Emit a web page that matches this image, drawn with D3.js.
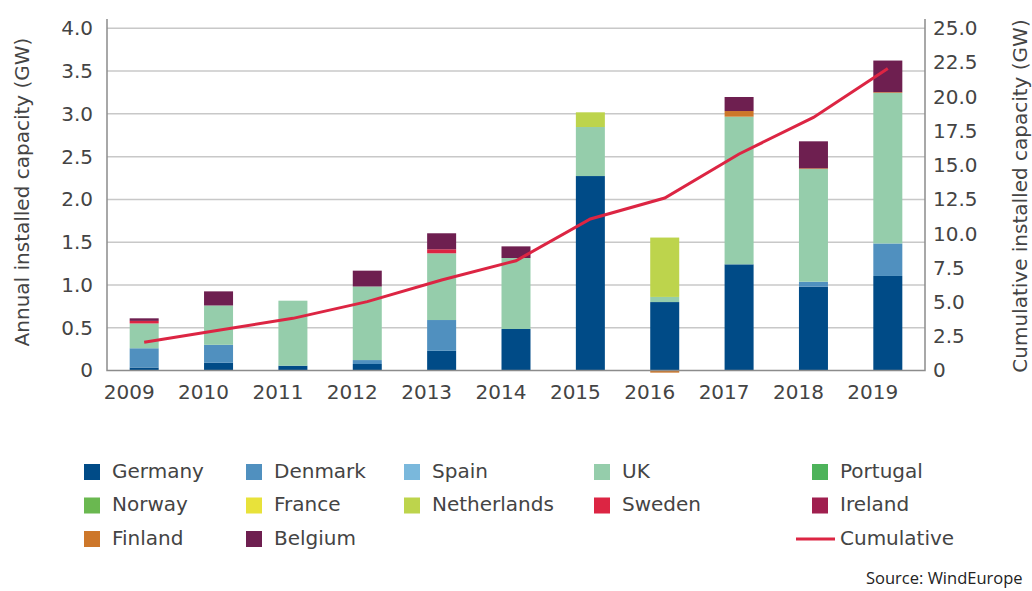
<!DOCTYPE html>
<html>
<head>
<meta charset="utf-8">
<script src="https://cdn.jsdelivr.net/npm/d3@7"></script>
<style>
    body { margin: 0; background: #fff; overflow: hidden; }
    svg text { font-family: "DejaVu Sans", sans-serif; fill: #444; }
</style>
</head>
<body>
<div class="canvas"></div>
<script>
// Data (GW)
const years = ['2009', '2010', '2011', '2012', '2013', '2014', '2015', '2016', '2017', '2018', '2019'];
const countries = ['Germany', 'Denmark', 'Spain', 'UK', 'Portugal', 'Norway', 'France', 'Netherlands', 'Sweden', 'Ireland', 'Finland', 'Belgium'];
const countryColors = ['#004b87', '#5090bf', '#7ab8dc', '#95cdab', '#4db35a', '#6ab850', '#e8e23a', '#bdd44c', '#dc2543', '#a01f4f', '#cd772a', '#6e1f50'];

const germany     = [0.035, 0.09, 0.056, 0.076, 0.23, 0.485, 2.273, 0.80, 1.241, 0.98, 1.105];
const denmark     = [0.225, 0.21, 0, 0.046, 0.36, 0, 0, 0, 0, 0.058, 0.38];
const spain       = [0, 0, 0, 0, 0, 0, 0, 0, 0, 0, 0];
const uk          = [0.29, 0.46, 0.76, 0.86, 0.78, 0.83, 0.573, 0.06, 1.726, 1.317, 1.76];
const portugal    = [0, 0, 0, 0, 0, 0, 0, 0, 0, 0, 0];
const norway      = [0, 0, 0, 0, 0, 0, 0, 0, 0, 0, 0];
const france      = [0, 0, 0, 0, 0, 0, 0, 0, 0, 0, 0];
const netherlands = [0, 0, 0, 0, 0, 0, 0.172, 0.694, 0, 0, 0];
const sweden      = [0.03, 0, 0, 0, 0.047, 0, 0, 0, 0, 0, 0];
const ireland     = [0, 0, 0, 0, 0, 0, 0, 0, 0, 0, 0];
const finland     = [0, 0, 0, 0, 0, 0, 0, -0.025, 0.066, 0.008, 0.008];
const belgium     = [0.03, 0.165, 0, 0.185, 0.187, 0.136, 0, 0, 0.164, 0.316, 0.37];

const cumulative  = [2.06, 2.94, 3.81, 5.03, 6.61, 8.02, 11.07, 12.6, 15.82, 18.49, 22.07];

const leftTicks  = [0, 0.5, 1.0, 1.5, 2.0, 2.5, 3.0, 3.5, 4.0];
const rightTicks = [0, 2.5, 5.0, 7.5, 10.0, 12.5, 15.0, 17.5, 20.0, 22.5, 25.0];

const seriesValues = [germany, denmark, spain, uk, portugal, norway, france, netherlands, sweden, ireland, finland, belgium];

// Table for d3.stack
const table = years.map((year, i) => {
    const row = { year };
    countries.forEach((c, j) => { row[c] = seriesValues[j][i]; });
    return row;
});

// Dimensions
const dims = { width: 1032, height: 591, left: 107, right: 925, top: 28.3, bottom: 370.5 };

const svg = d3.select('.canvas')
    .append('svg')
    .attr('width', dims.width)
    .attr('height', dims.height);

// Scales
const xScale = d3.scaleBand()
    .domain(years)
    .range([dims.left, dims.right])
    .paddingInner(0.61)
    .paddingOuter(0.305);

const yScale = d3.scaleLinear().domain([0, 4]).range([dims.bottom, dims.top]);
const y2Scale = d3.scaleLinear().domain([0, 25]).range([dims.bottom, dims.top]);
const color = d3.scaleOrdinal().domain(countries).range(countryColors);

// Gridlines
svg.append('g')
    .selectAll('line')
    .data(leftTicks.slice(1))
    .enter()
    .append('line')
        .attr('x1', dims.left)
        .attr('x2', dims.right)
        .attr('y1', d => yScale(d))
        .attr('y2', d => yScale(d))
        .attr('stroke', '#c8c8c8')
        .attr('stroke-width', 1.5);

// Stacked bars
const stacked = d3.stack()
    .keys(countries)
    .offset(d3.stackOffsetDiverging)(table);

svg.append('g')
    .selectAll('g')
    .data(stacked)
    .enter()
    .append('g')
        .attr('fill', d => color(d.key))
    .selectAll('rect')
    .data(d => d.filter(p => p[1] !== p[0]))
    .enter()
    .append('rect')
        .attr('x', d => xScale(d.data.year))
        .attr('width', xScale.bandwidth())
        .attr('y', d => yScale(Math.max(d[0], d[1])))
        .attr('height', d => Math.abs(yScale(d[0]) - yScale(d[1])));

// Axes
const fmt = d => d === 0 ? '0' : d.toFixed(1);

const leftAxis = svg.append('g')
    .attr('transform', `translate(${dims.left}, 0)`)
    .call(d3.axisLeft(yScale).tickValues(leftTicks).tickFormat(fmt).tickSize(0).tickPadding(14));

const rightAxis = svg.append('g')
    .attr('transform', `translate(${dims.right}, 0)`)
    .call(d3.axisRight(y2Scale).tickValues(rightTicks).tickFormat(fmt).tickSize(0).tickPadding(8));

const bottomAxis = svg.append('g')
    .attr('transform', `translate(0, ${dims.bottom})`)
    .call(d3.axisBottom(xScale).tickSize(0).tickPadding(14));

[leftAxis, rightAxis, bottomAxis].forEach(axis => {
    axis.select('.domain').remove();
    axis.selectAll('text')
        .attr('font-size', 20)
        .attr('font-family', '"DejaVu Sans", sans-serif')
        .attr('fill', '#444');
});
bottomAxis.selectAll('text').attr('dx', -15);

// Axis lines
svg.append('path')
    .attr('d', `M${dims.left},19V${dims.bottom}H${dims.right}V19`)
    .attr('fill', 'none')
    .attr('stroke', '#8c8c8c')
    .attr('stroke-width', 1.5);

// Cumulative line
const line = d3.line()
    .x((d, i) => xScale(years[i]) + xScale.bandwidth() / 2)
    .y(d => y2Scale(d));

svg.append('path')
    .datum(cumulative)
    .attr('d', line)
    .attr('fill', 'none')
    .attr('stroke', '#dc2543')
    .attr('stroke-width', 3);

// Axis titles
svg.append('text')
    .attr('transform', 'translate(23, 192) rotate(-90)')
    .attr('text-anchor', 'middle')
    .attr('dominant-baseline', 'middle')
    .attr('font-size', 20)
    .text('Annual installed capacity (GW)');

svg.append('text')
    .attr('transform', 'translate(1021, 196) rotate(-90)')
    .attr('text-anchor', 'middle')
    .attr('dominant-baseline', 'middle')
    .attr('font-size', 20)
    .text('Cumulative installed capacity (GW)');

// Legend
const legendCols = [84, 246, 404, 594, 812];
const legendRows = [472, 505.5, 539];
const legendItems = countries.map((c, i) => ({ label: c, color: countryColors[i], slot: i }));
legendItems.push({ label: 'Cumulative', color: '#dc2543', slot: 14, line: true });

const legend = svg.append('g')
    .selectAll('g')
    .data(legendItems)
    .enter()
    .append('g')
        .attr('transform', d => `translate(${legendCols[d.slot % 5]}, ${legendRows[Math.floor(d.slot / 5)]})`);

legend.filter(d => !d.line)
    .append('rect')
        .attr('x', 0)
        .attr('y', -8)
        .attr('width', 16)
        .attr('height', 16)
        .attr('fill', d => d.color);

legend.filter(d => d.line)
    .append('line')
        .attr('x1', -16)
        .attr('x2', 23)
        .attr('stroke', d => d.color)
        .attr('stroke-width', 3);

legend.append('text')
    .attr('x', 28)
    .attr('dominant-baseline', 'middle')
    .attr('font-size', 20)
    .text(d => d.label);

// Source
svg.append('text')
    .attr('x', 866)
    .attr('y', 584)
    .attr('font-size', 16.5)
    .style('font-family', '"Open Sans", sans-serif')
    .style('fill', '#222')
    .text('Source: WindEurope');
</script>
</body>
</html>
